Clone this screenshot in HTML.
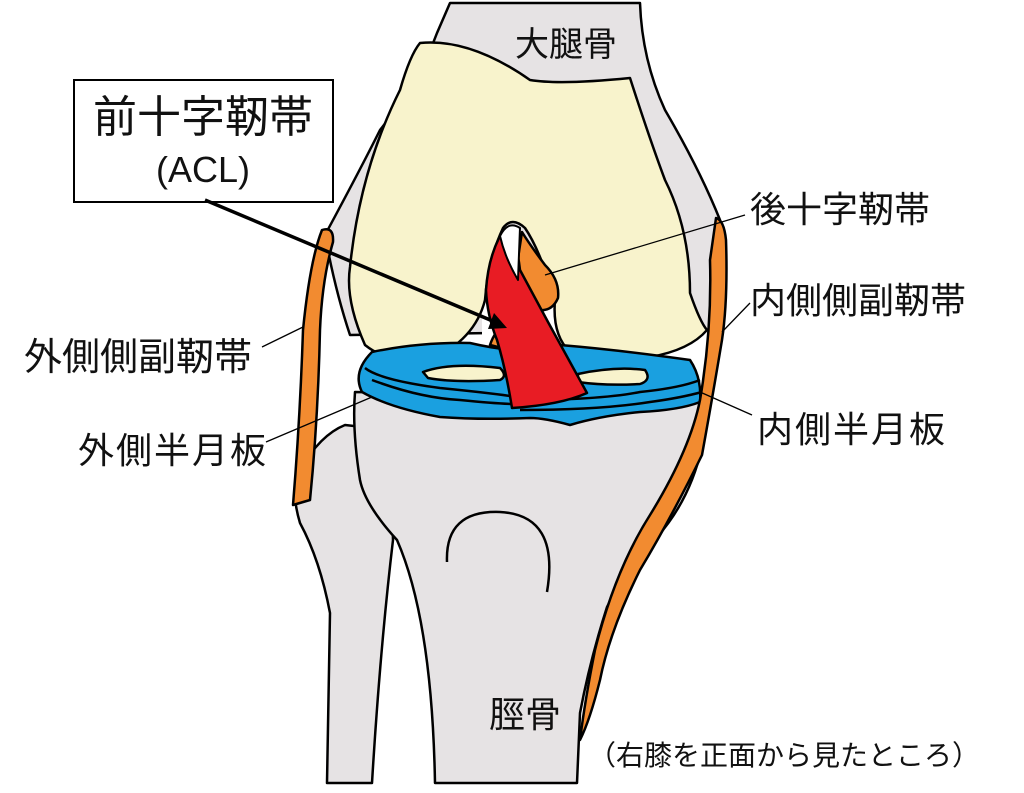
<!DOCTYPE html>
<html><head><meta charset="utf-8"><style>
html,body{margin:0;padding:0;background:#fff;width:1024px;height:793px;overflow:hidden}
text{font-family:"Liberation Sans","Noto Sans CJK JP",sans-serif;fill:#111}
</style></head><body>
<svg width="1024" height="793" viewBox="0 0 1024 793" xmlns="http://www.w3.org/2000/svg">
<g stroke="#000" stroke-width="2.5" stroke-linejoin="round">
<!-- femur gray -->
<path d="M450,3 L640,3 Q642,60 665,110 Q700,170 720,220 L712,330 L350,335 Q335,290 325,235 Q360,170 380,130 Q420,80 437,33 Z" fill="#e6e3e4"/>
<!-- fibula -->
<path d="M327,783 L330,613 Q320,560 300,523 Q290,490 300,470 Q320,435 345,425 L390,430 L393,540 Q380,650 372,783 Z" fill="#e6e3e4"/>
<!-- tibia -->
<path d="M355,392 L700,398 L702,447 Q690,500 657,537 Q625,570 607,607 Q590,660 580,713 L577,783 L435,783 Q432,620 397,540 Q365,505 360,480 Q352,430 355,392 Z" fill="#e6e3e4"/>
<!-- notch white -->
<path d="M482,290 L562,290 L562,352 L482,352 Z" fill="#fff" stroke="none"/>
<!-- femur condyles -->
<path d="M420,43 Q470,38 530,80 Q560,85 630,78 Q650,140 665,180 Q690,230 690,293 Q700,322 707,330 Q690,350 650,357 Q600,362 570,352 Q552,335 555,300 Q540,250 525,228 Q512,216 503,228 Q488,260 485,300 Q475,340 430,360 Q390,365 365,345 Q345,300 350,267 Q360,170 400,90 Q410,55 420,43 Z" fill="#f8f3cc"/>
<!-- menisci -->
<path d="M372,352 Q420,342 470,343 Q500,350 520,350 L560,345 Q620,350 690,360 Q702,378 700,402 Q680,410 640,412 Q600,416 570,425 Q545,418 530,418 Q480,420 440,417 Q390,408 362,392 Q352,372 372,352 Z" fill="#1aa0e0"/>
<path d="M365,368 Q380,380 440,388 Q490,393 510,396 M372,380 Q420,398 460,400 Q500,404 515,404 M520,400 Q600,400 640,392 Q680,388 700,380 M520,410 Q600,410 650,402 Q680,398 702,392" fill="none"/>
<path d="M423,372 Q450,362 500,368 Q508,376 500,380 Q455,383 428,378 Z" fill="#f8f3cc"/>
<path d="M578,374 Q615,366 645,370 Q652,380 640,384 Q605,386 578,382 Z" fill="#f8f3cc"/>
<!-- PCL -->
<path d="M522,232 Q530,245 545,265 Q560,280 558,298 Q552,312 538,310 Q522,290 517,265 Z" fill="#f28b30"/>
<path d="M490,345 Q495,330 505,325 L510,350 Z" fill="#f28b30"/>
<!-- ACL -->
<path d="M499,238 Q505,228 510,232 Q518,250 520,270 L548,322 Q570,362 587,393 Q560,405 512,408 Q506,370 497,340 Q487,315 486,290 Q488,260 499,238 Z" fill="#e81c24"/>
<path d="M500,236 Q508,220 520,228 L518,280 Q505,258 500,236 Z" fill="#fff" stroke-width="2"/>
<!-- ligaments -->
<path d="M322,230 Q334,226 333,242 Q322,280 320,330 Q318,420 310,500 L293,505 Q300,420 303,330 Q310,260 322,230 Z" fill="#f28b30"/>
<path d="M716,218 Q724,220 726,240 Q728,300 722,340 Q712,400 702,455 Q670,520 640,570 Q610,630 600,680 Q590,720 580,740 Q585,700 595,650 Q615,570 650,515 Q690,450 700,400 Q712,330 710,260 Z" fill="#f28b30"/>
<!-- tibia arc -->
<path d="M447,562 Q445,510 500,512 Q560,515 547,592" fill="none"/>
</g>
<!-- box -->
<rect x="74" y="80" width="259" height="122" fill="#fff" stroke="#000" stroke-width="2"/>
<text x="203" y="132" font-size="44" text-anchor="middle">前十字靭帯</text>
<text x="203" y="182" font-size="36" text-anchor="middle">(ACL)</text>
<!-- arrow -->
<line x1="205" y1="200" x2="495" y2="322" stroke="#000" stroke-width="3.5"/>
<polygon points="507,328 488,329 494,313" fill="#000"/>
<!-- leader lines -->
<g stroke="#000" stroke-width="1.3">
<line x1="745" y1="215" x2="545" y2="275"/>
<line x1="750" y1="303" x2="722" y2="332"/>
<line x1="262" y1="347" x2="303" y2="327"/>
<line x1="266" y1="442" x2="372" y2="397"/>
<line x1="700" y1="392" x2="752" y2="415"/>
</g>
<text x="515" y="56" font-size="34">大腿骨</text>
<text x="750" y="222" font-size="36">後十字靭帯</text>
<text x="750" y="313" font-size="36">内側側副靭帯</text>
<text x="24" y="370" font-size="38">外側側副靭帯</text>
<text x="78" y="463" font-size="36" letter-spacing="2">外側半月板</text>
<text x="757" y="442" font-size="36" letter-spacing="2">内側半月板</text>
<text x="489" y="727" font-size="36">脛骨</text>
<text x="588" y="765" font-size="28">（右膝を正面から見たところ）</text>
</svg>
</body></html>
